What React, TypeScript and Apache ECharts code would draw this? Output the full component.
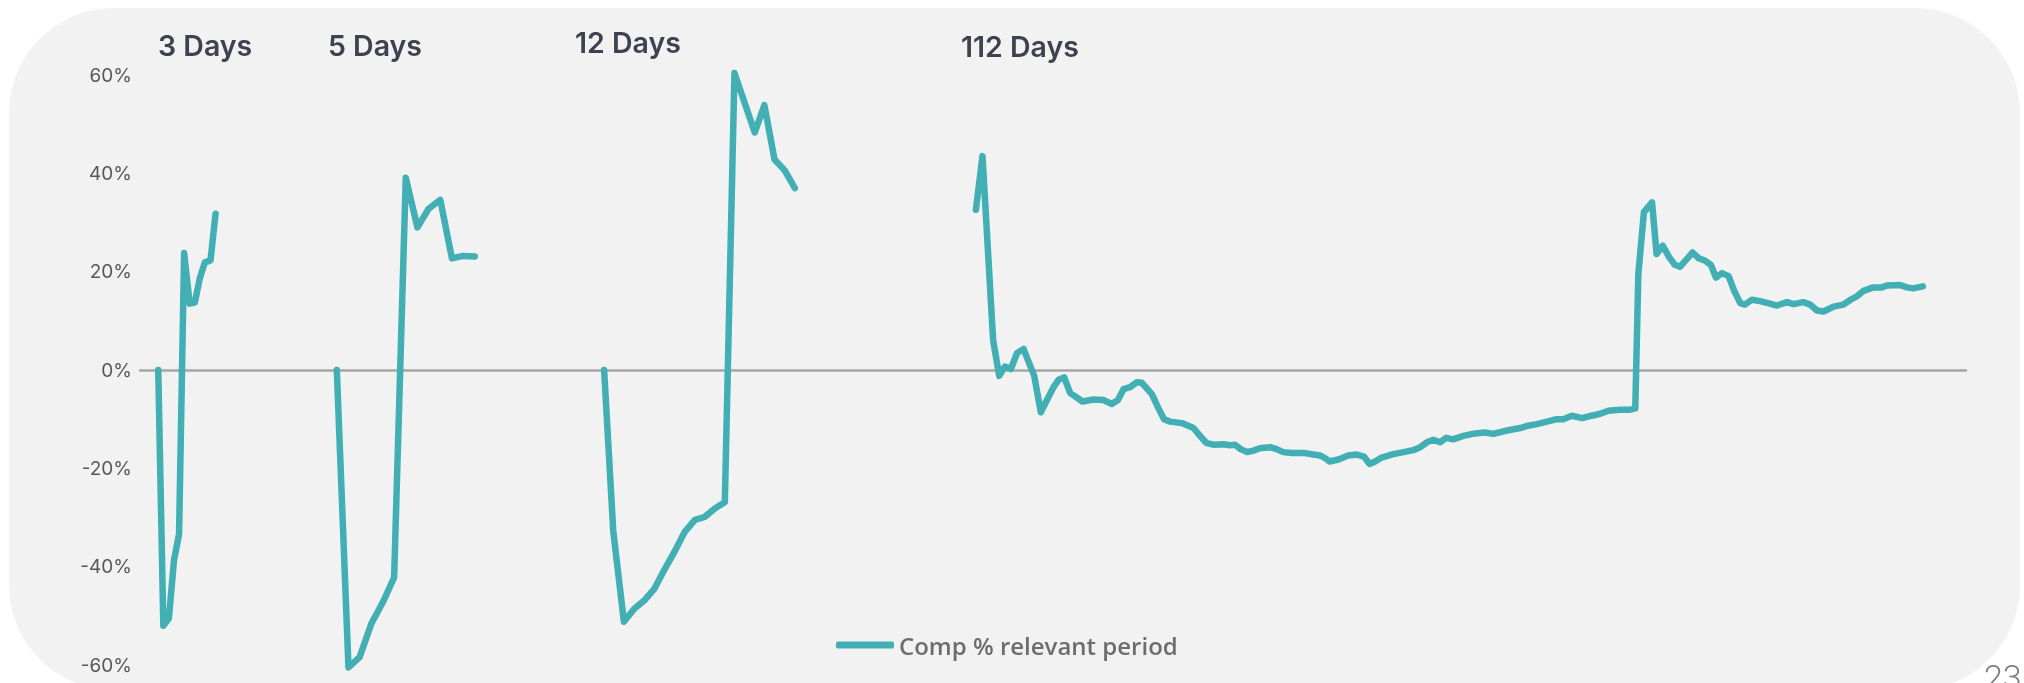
import React, { useEffect, useRef } from "react";
import * as echarts from "echarts";

// ---- Data -------------------------------------------------------------
const seriesName = "Comp % relevant period";

// x = sample position on a hidden 0..360 index axis, y = comp %
const days3X = [3.6, 4.6, 5.7, 6.7, 7.7, 8.7, 9.8, 10.8, 11.8, 12.8, 13.9, 14.9];
const days3Y = [0, -52, -50.5, -38.7, -33.4, 23.8, 13.5, 13.7, 18.7, 21.9, 22.3, 31.8];

const days5X = [38.8, 41.1, 43.3, 45.6, 47.9, 50.1, 52.4, 54.7, 56.9, 59.2, 61.5, 63.7, 66.0];
const days5Y = [0, -60.5, -58.4, -51.6, -47.2, -42.2, 39.1, 29.0, 32.8, 34.6, 22.7, 23.2, 23.1];

const days12X = [91.5, 93.3, 95.4, 97.4, 99.4, 101.4, 103.3, 105.3, 107.4, 109.4, 111.3, 113.4, 115.3, 117.2, 121.2, 123.1, 125.1, 127.1, 129.1];
const days12Y = [0, -32.7, -51.2, -48.6, -46.9, -44.5, -40.8, -37.1, -32.9, -30.5, -29.9, -28.1, -26.9, 60.4, 48.3, 53.9, 42.8, 40.6, 37.0];

const days112X = [
  164.8, 166.1, 168.2, 169.4, 170.5, 171.7, 172.9, 174.2, 175.1, 176.3,
  177.6, 178.9, 180.1, 181.1, 182.2, 183.4, 184.4, 185.8, 188.0, 189.9,
  191.6, 192.8, 193.9, 195.2, 196.5, 197.5, 199.5, 200.7, 201.9, 203.1,
  205.4, 207.7, 209.0, 210.2, 211.6, 213.6, 214.9, 215.9, 217.0, 218.3,
  219.5, 220.8, 222.8, 224.1, 225.4, 227.1, 229.7, 231.3, 232.7, 233.6,
  234.5, 236.3, 238.2, 239.9, 241.3, 242.4, 243.5, 244.8, 247.1, 249.1,
  251.0, 252.4, 253.7, 255.0, 256.3, 257.5, 258.9, 260.9, 263.2, 265.2,
  266.8, 269.5, 272.1, 273.4, 275.4, 277.4, 279.3, 280.6, 282.3, 284.3,
  286.2, 287.9, 289.5, 291.8, 293.6, 294.8, 295.4, 296.5, 298.1, 299.0,
  300.2, 301.5, 302.6, 303.6, 305.0, 306.1, 307.2, 308.6, 309.7, 310.7,
  311.9, 313.2, 314.3, 315.5, 316.4, 317.8, 319.4, 321.0, 322.7, 324.7,
  326.0, 327.9, 329.3, 330.6, 331.9, 333.9, 335.8, 337.1, 338.5, 339.8,
  341.7, 343.4, 344.4, 347.0, 348.3, 349.6, 351.5,
];
const days112Y = [
  32.6, 43.5, 6.0, -1.2, 0.7, 0.2, 3.4, 4.3, 1.9, -1.2,
  -8.6, -5.9, -3.5, -2.0, -1.5, -4.7, -5.4, -6.4, -6.0, -6.1,
  -6.9, -6.1, -3.9, -3.5, -2.5, -2.6, -4.9, -7.6, -10.0, -10.5,
  -10.8, -11.8, -13.4, -14.8, -15.2, -15.1, -15.3, -15.2, -16.1, -16.7,
  -16.4, -15.9, -15.7, -16.1, -16.7, -16.9, -16.9, -17.2, -17.4, -17.9,
  -18.6, -18.2, -17.4, -17.2, -17.6, -19.1, -18.6, -17.8, -17.1, -16.7,
  -16.3, -15.7, -14.7, -14.2, -14.7, -13.8, -14.1, -13.4, -12.9, -12.7,
  -13.0, -12.3, -11.8, -11.4, -11.0, -10.5, -10.0, -10.0, -9.3, -9.8,
  -9.3, -8.9, -8.3, -8.1, -8.1, -7.8, 19.5, 32.1, 34.1, 23.6,
  25.3, 22.9, 21.4, 21.0, 22.6, 23.9, 22.8, 22.2, 21.4, 18.8,
  19.7, 19.1, 16.1, 13.6, 13.3, 14.3, 14.0, 13.6, 13.1, 13.8,
  13.4, 13.8, 13.3, 12.1, 11.9, 12.9, 13.3, 14.2, 15.0, 16.1,
  16.8, 16.8, 17.2, 17.3, 16.8, 16.6, 17.0,
];

const periodLabels = ["3 Days", "5 Days", "12 Days", "112 Days"];
const yMin = -60;
const yMax = 60;
const yStep = 20;
const pageNumber = "23";

// ---- Layout / style ----------------------------------------------------
const W = 2024;
const H = 683;
const TEAL = "#41afb3";
const labelPos = [
  { x: 158, y: 45 },
  { x: 328, y: 45 },
  { x: 575, y: 42.5 },
  { x: 961, y: 46.5 },
];

const segments = [
  [days3X, days3Y],
  [days5X, days5Y],
  [days12X, days12Y],
  [days112X, days112Y],
];

export default function App() {
  const ref = useRef<HTMLDivElement>(null);

  useEffect(() => {
    if (!ref.current) return;
    const chart = echarts.init(ref.current, undefined, { renderer: "svg" });

    const series = segments.map(([xs, ys]) => ({
      name: seriesName,
      type: "line",
      data: xs.map((x, i) => [x, ys[i]]),
      showSymbol: false,
      symbol: "none",
      clip: false,
      z: 3,
      lineStyle: { color: TEAL, width: 6.5, cap: "round", join: "round" },
      itemStyle: { color: TEAL },
      emphasis: { disabled: true },
    }));

    chart.setOption({
      animation: false,
      grid: { left: 140, right: 58, top: 75, bottom: 18 },
      xAxis: {
        type: "value",
        min: 0,
        max: 360,
        axisLine: { show: true, onZero: true, lineStyle: { color: "#a6a6a6", width: 2.5 } },
        axisTick: { show: false },
        axisLabel: { show: false },
        splitLine: { show: false },
      },
      yAxis: {
        type: "value",
        min: yMin,
        max: yMax,
        interval: yStep,
        axisLine: { show: false },
        axisTick: { show: false },
        splitLine: { show: false },
        axisLabel: {
          formatter: "{value}%",
          margin: 8,
          fontSize: 19,
          color: "#595959",
          fontFamily: "Inter",
        },
      },
      legend: {
        data: [seriesName],
        left: 831,
        top: 628,
        icon: "roundRect",
        itemWidth: 58,
        itemHeight: 7,
        textStyle: {
          fontSize: 24,
          fontWeight: 600,
          color: "#6d6d6d",
          fontFamily: "Open Sans",
        },
      },
      graphic: [
        {
          type: "rect",
          silent: true,
          z: -10,
          shape: { x: 9, y: 8, width: 2011, height: 682, r: 105 },
          style: { fill: "#f2f2f2" },
        },
        ...periodLabels.map((t, i) => ({
          type: "text",
          silent: true,
          x: labelPos[i].x,
          y: labelPos[i].y,
          style: {
            text: t,
            fill: "#3e414f",
            fontSize: 28.5,
            fontWeight: 600,
            fontFamily: "Inter",
            align: "left",
            verticalAlign: "middle",
          },
        })),
        {
          type: "text",
          silent: true,
          x: 1984,
          y: 677,
          style: {
            text: pageNumber,
            fill: "#7f7f7f",
            fontSize: 34,
            fontWeight: 300,
            fontFamily: "Roboto",
            align: "left",
            verticalAlign: "middle",
          },
        },
      ],
      series,
    });

    return () => chart.dispose();
  }, []);

  return (
    <div
      ref={ref}
      style={{ position: "fixed", left: 0, top: 0, width: W + "px", height: H + "px" }}
    />
  );
}
